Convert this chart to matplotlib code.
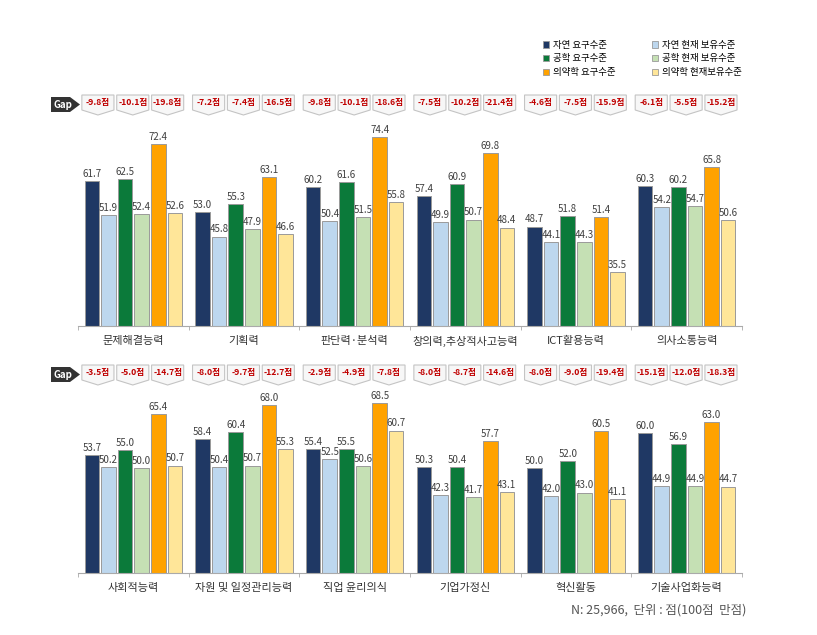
import numpy as np
import matplotlib
matplotlib.use("Agg")
import matplotlib.pyplot as plt
from matplotlib.patches import Polygon, Patch
from matplotlib.transforms import blended_transform_factory

plt.rcParams['font.family'] = ['Noto Sans CJK KR', 'DejaVu Sans']

series_names = ["자연 요구수준", "자연 현재 보유수준", "공학 요구수준",
                "공학 현재 보유수준", "의약학 요구수준", "의약학 현재보유수준"]
colors = ["#1f3864", "#bdd7ee", "#0b7a3a", "#c5e0b4", "#ffa200", "#ffe699"]

top_categories = ["문제해결능력", "기획력", "판단력·분석력", "창의력,추상적사고능력",
                  "ICT활용능력", "의사소통능력"]
top_values = [
    [61.7, 53.0, 60.2, 57.4, 48.7, 60.3],
    [51.9, 45.8, 50.4, 49.9, 44.1, 54.2],
    [62.5, 55.3, 61.6, 60.9, 51.8, 60.2],
    [52.4, 47.9, 51.5, 50.7, 44.3, 54.7],
    [72.4, 63.1, 74.4, 69.8, 51.4, 65.8],
    [52.6, 46.6, 55.8, 48.4, 35.5, 50.6],
]
top_gaps = [
    [-9.8, -10.1, -19.8], [-7.2, -7.4, -16.5], [-9.8, -10.1, -18.6],
    [-7.5, -10.2, -21.4], [-4.6, -7.5, -15.9], [-6.1, -5.5, -15.2],
]

bot_categories = ["사회적능력", "자원 및 일정관리능력", "직업 윤리의식",
                  "기업가정신", "혁신활동", "기술사업화능력"]
bot_values = [
    [53.7, 58.4, 55.4, 50.3, 50.0, 60.0],
    [50.2, 50.4, 52.5, 42.3, 42.0, 44.9],
    [55.0, 60.4, 55.5, 50.4, 52.0, 56.9],
    [50.0, 50.7, 50.6, 41.7, 43.0, 44.9],
    [65.4, 68.0, 68.5, 57.7, 60.5, 63.0],
    [50.7, 55.3, 60.7, 43.1, 41.1, 44.7],
]
bot_gaps = [
    [-3.5, -5.0, -14.7], [-8.0, -9.7, -12.7], [-2.9, -4.9, -7.8],
    [-8.0, -8.7, -14.6], [-8.0, -9.0, -19.4], [-15.1, -12.0, -18.3],
]

W, H = 817, 635
fig = plt.figure(figsize=(W / 100, H / 100), dpi=100)


def fx(px):
    return px / W


def fy(py):
    return 1 - py / H


def draw_panel(ax, categories, values, gaps, row_top):
    x = np.arange(len(categories))
    pitch = 0.15
    width = 0.132
    for k, (vals, c) in enumerate(zip(values, colors)):
        bars = ax.bar(x + (k - 2.5) * pitch, vals, width, color=c,
                      edgecolor="#9a9a9a", linewidth=0.7)
        ax.bar_label(bars, fmt="%.1f", padding=1.5, fontsize=7, color="#404040")
    ax.set_xlim(-0.5, len(categories) - 0.5)
    ax.set_ylim(20, 80)
    ax.set_yticks([])
    ax.set_xticks(x, categories)
    ax.set_xticks(np.arange(len(categories) + 1) - 0.5, minor=True)
    ax.tick_params(axis="x", which="major", length=0, pad=7, labelsize=8,
                   labelcolor="#333333")
    ax.tick_params(axis="x", which="minor", length=3, color="#aaaaaa")
    for s in ["top", "left", "right"]:
        ax.spines[s].set_visible(False)
    ax.spines["bottom"].set_color("#aaaaaa")

    # gap boxes
    trans = blended_transform_factory(ax.transData, fig.transFigure)
    offsets = [-0.32, -0.005, 0.31]
    bw = 0.29
    y0, y1, y2 = fy(row_top), fy(row_top + 15), fy(row_top + 20)
    for i, g in enumerate(gaps):
        for j, val in enumerate(g):
            cx = i + offsets[j]
            pts = [(cx - bw / 2, y0), (cx + bw / 2, y0), (cx + bw / 2, y1),
                   (cx, y2), (cx - bw / 2, y1)]
            ax.add_patch(Polygon(pts, closed=True, transform=trans, clip_on=False,
                                 facecolor="#f7f7f7", edgecolor="#c4c4c4", lw=0.8))
            ax.text(cx, fy(row_top + 8), f"{val:.1f}점", transform=trans,
                    ha="center", va="center", fontsize=6.2, fontweight="bold",
                    color="#c00000", clip_on=False)

    # "Gap" arrow label
    gx0, gx1, gtip = 51, 70, 80
    gy0, gy1 = row_top + 2, row_top + 17
    pts = [(fx(gx0), fy(gy0)), (fx(gx1), fy(gy0)), (fx(gtip), fy((gy0 + gy1) / 2)),
           (fx(gx1), fy(gy1)), (fx(gx0), fy(gy1))]
    fig.patches.append(Polygon(pts, closed=True, transform=fig.transFigure,
                               facecolor="#333333", edgecolor="none"))
    fig.text(fx(63), fy((gy0 + gy1) / 2), "Gap", ha="center", va="center",
             fontsize=7, fontweight="bold", color="white")


ax_top = fig.add_axes([fx(78), fy(326), fx(742) - fx(78), 208 / H])
ax_bot = fig.add_axes([fx(78), fy(573), fx(742) - fx(78), 210 / H])
draw_panel(ax_top, top_categories, top_values, top_gaps, 95)
draw_panel(ax_bot, bot_categories, bot_values, bot_gaps, 365)

# legend: column-major order
order = [0, 2, 4, 1, 3, 5]
handles = [Patch(facecolor=colors[k], edgecolor="#9a9a9a", linewidth=0.6,
                 label=series_names[k]) for k in order]
fig.legend(handles=handles, ncol=2, loc="upper left",
           bbox_to_anchor=(fx(538), fy(36)), frameon=False, fontsize=6.8,
           handlelength=0.7, handleheight=0.7, handletextpad=0.4,
           columnspacing=3.8, labelspacing=0.5, borderpad=0)

fig.text(fx(746), fy(610), "N: 25,966,  단위 : 점(100점  만점)", ha="right",
         va="center", fontsize=9, color="#555555")

fig.savefig("out.png", dpi=100)
